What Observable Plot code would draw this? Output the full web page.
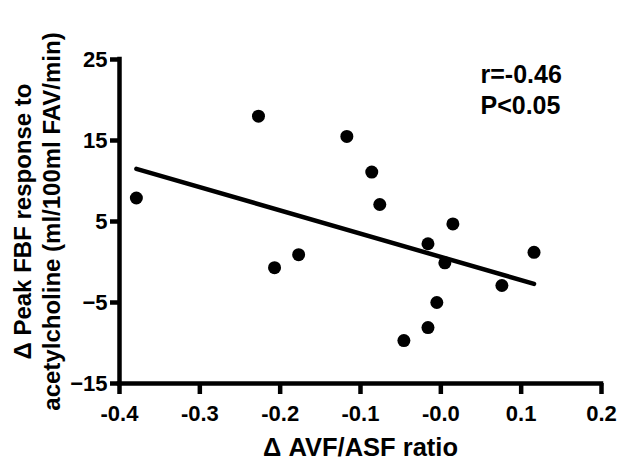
<!DOCTYPE html>
<html>
<head>
<meta charset="utf-8">
<script src="https://cdn.jsdelivr.net/npm/d3@7"></script>
<script src="https://cdn.jsdelivr.net/npm/@observablehq/plot@0.6"></script>
<style>
  html, body { margin: 0; padding: 0; background: #fff; }
</style>
</head>
<body>
<div id="chart"></div>
<script>
// Δ AVF/ASF ratio (x) and Δ peak FBF response (y)
const avfRatio = [-0.379, -0.227, -0.207, -0.177, -0.117, -0.086, -0.076, -0.046, -0.016, -0.016, -0.005, 0.005, 0.015, 0.076, 0.116];
const fbfResponse = [7.9, 18.0, -0.7, 0.9, 15.5, 11.1, 7.1, -9.7, 2.25, -8.1, -5.0, -0.1, 4.7, -2.9, 1.2];

const xTicks = [-0.4, -0.3, -0.2, -0.1, 0, 0.1, 0.2];
const xTickLabels = ["-0.4", "-0.3", "-0.2", "-0.1", "-0.0", "0.1", "0.2"];
const yTicks = [-15, -5, 5, 15, 25];
const xTitle = "Δ AVF/ASF ratio";
const yTitle = "Δ Peak FBF response to\nacetylcholine (ml/100ml FAV/min)";
const statsText = "r=-0.46\nP<0.05";

const data = avfRatio.map((x, i) => ({x, y: fbfResponse[i]}));
const font = "'Liberation Sans', Arial, Helvetica, sans-serif";

const chart = Plot.plot({
  width: 629,
  height: 468,
  marginLeft: 119,
  marginRight: 28,
  marginTop: 59,
  marginBottom: 85,
  x: {domain: [-0.4, 0.2], axis: null},
  y: {domain: [-15, 25], axis: null},
  style: {fontFamily: font, fontWeight: "bold", color: "#000", background: "#fff"},
  marks: [
    Plot.axisX(xTicks, {tickSize: 11, tickPadding: 11, strokeWidth: 4.5, fontSize: 22, fontWeight: "bold",
      tickFormat: d => xTickLabels[xTicks.indexOf(d)], label: null}),
    Plot.axisY(yTicks, {tickSize: 9, tickPadding: 3, strokeWidth: 4.5, fontSize: 22, fontWeight: "bold", label: null}),
    Plot.ruleY([-15], {strokeWidth: 4.5, strokeLinecap: "square"}),
    Plot.ruleX([-0.4], {strokeWidth: 4.5, strokeLinecap: "square"}),
    Plot.linearRegressionY(data, {x: "x", y: "y", ci: 0, stroke: "#000", strokeWidth: 4.5}),
    Plot.dot(data, {x: "x", y: "y", r: 6.5, fill: "#000", stroke: "none"}),
    Plot.text([xTitle], {frameAnchor: "bottom", dy: 64, lineAnchor: "middle", textAnchor: "middle", fontSize: 25.5, fontWeight: "bold"}),
    Plot.text([yTitle], {frameAnchor: "left", rotate: -90, dx: -83.5, lineAnchor: "middle", textAnchor: "middle", lineHeight: 1.2, fontSize: 24, fontWeight: "bold"}),
    Plot.text([statsText], {frameAnchor: "top-left", dx: 361, dy: 54, textAnchor: "start", lineAnchor: "bottom", lineHeight: 1.24, fontSize: 25, fontWeight: "bold"})
  ]
});
document.getElementById("chart").appendChild(chart);
</script>
</body>
</html>
